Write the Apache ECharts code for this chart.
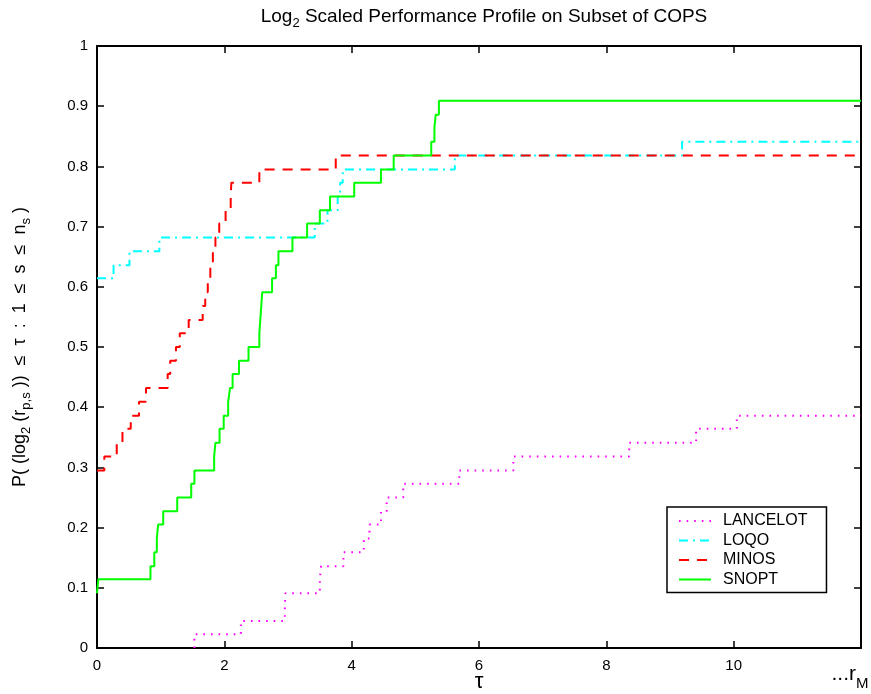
<!DOCTYPE html>
<html>
<head>
<meta charset="utf-8">
<script src="https://cdn.jsdelivr.net/npm/echarts@6/dist/echarts.min.js"></script>
<style>
html,body{margin:0;padding:0;background:#fff;}
#chart{width:871px;height:694px;}
</style>
</head>
<body>
<div id="chart"></div>
<script>
// ---- Data ----
const seriesNames = ['LANCELOT', 'LOQO', 'MINOS', 'SNOPT'];
const xTickLabels = ['0', '2', '4', '6', '8', '10', '...r_M'];

const lancelotTau = [1.53, 1.53, 2.26, 2.95, 2.96, 3.50, 3.52, 3.87, 4.19, 4.28, 4.46, 4.55, 4.81, 5.69, 6.54, 8.36, 9.41, 10.05, 12];
const lancelotP   = [0, 0.023, 0.045, 0.068, 0.091, 0.114, 0.136, 0.159, 0.182, 0.205, 0.227, 0.250, 0.273, 0.295, 0.318, 0.341, 0.364, 0.386, 0.386];

const loqoTau = [0, 0.26, 0.51, 0.98, 3.42, 3.62, 3.78, 3.82, 3.86, 5.62, 9.19, 12];
const loqoP   = [0.614, 0.636, 0.659, 0.682, 0.705, 0.727, 0.750, 0.773, 0.795, 0.818, 0.841, 0.841];

const minosTau = [0, 0.115, 0.31, 0.40, 0.53, 0.66, 0.77, 1.11, 1.15, 1.24, 1.30, 1.44, 1.66, 1.70, 1.74, 1.78, 1.82, 1.86, 1.92, 2.02, 2.10, 2.11, 2.55, 3.75, 12];
const minosP   = [0.295, 0.318, 0.341, 0.364, 0.386, 0.409, 0.432, 0.455, 0.477, 0.500, 0.523, 0.545, 0.568, 0.591, 0.614, 0.636, 0.659, 0.682, 0.705, 0.727, 0.750, 0.773, 0.795, 0.818, 0.818];

const snoptTau = [0, 0.02, 0.84, 0.90, 0.94, 0.96, 1.04, 1.26, 1.48, 1.53, 1.84, 1.86, 1.925, 1.99, 2.06, 2.09, 2.13, 2.23, 2.38, 2.55, 2.565, 2.58, 2.595, 2.75, 2.81, 2.85, 3.07, 3.30, 3.50, 3.66, 4.04, 4.46, 4.66, 5.25, 5.30, 5.32, 5.37, 12];
const snoptP   = [0.091, 0.114, 0.136, 0.159, 0.182, 0.205, 0.227, 0.250, 0.273, 0.295, 0.318, 0.341, 0.364, 0.386, 0.409, 0.432, 0.455, 0.477, 0.500, 0.523, 0.545, 0.568, 0.591, 0.614, 0.636, 0.659, 0.682, 0.705, 0.727, 0.750, 0.773, 0.795, 0.818, 0.841, 0.864, 0.886, 0.909, 0.909];

const FONT = '"Liberation Sans", Arial, Helvetica, sans-serif';
function pairs(xs, ys) { return xs.map((x, i) => [x, ys[i]]); }

const chart = echarts.init(document.getElementById('chart'), null, {renderer: 'canvas'});

const axisCommon = {
  min: 0,
  axisLine: {show: true, onZero: false, lineStyle: {color: '#000', width: 2}},
  axisTick: {show: true, inside: true, length: 7, lineStyle: {color: '#000', width: 1.5}},
  splitLine: {show: false}
};

const option = {
  animation: false,
  backgroundColor: '#fff',
  textStyle: {fontFamily: FONT},
  title: {
    text: '{a|Log}{s|2}{a| Scaled Performance Profile on Subset of COPS}',
    left: 479,
    top: -1,
    textAlign: 'center',
    textStyle: {
      fontFamily: FONT, fontWeight: 'normal', color: '#000',
      rich: {
        a: {fontSize: 19, fontFamily: FONT, color: '#000', verticalAlign: 'middle', lineHeight: 26},
        s: {fontSize: 13, fontFamily: FONT, color: '#000', verticalAlign: 'bottom', lineHeight: 26}
      }
    }
  },
  grid: {left: 97, right: 10, top: 46, bottom: 46, containLabel: false, outerBoundsMode: 'none'},
  legend: {
    orient: 'vertical',
    left: 667,
    top: 507,
    data: seriesNames,
    itemWidth: 32,
    itemHeight: 14,
    itemGap: 3.5,
    padding: [6, 19, 5, 11],
    borderColor: '#000',
    borderWidth: 1.5,
    backgroundColor: '#fff',
    itemStyle: {opacity: 0, borderWidth: 0},
    textStyle: {fontFamily: FONT, fontSize: 16, color: '#000', padding: [0, 0, 0, 7]}
  },
  xAxis: [
    Object.assign({}, axisCommon, {
      type: 'value', position: 'bottom', max: 12, interval: 2,
      name: 'τ', nameLocation: 'middle', nameGap: 23, nameMoveOverlap: false,
      nameTextStyle: {fontFamily: FONT, fontSize: 22, color: '#000'},
      axisLabel: {
        margin: 9, color: '#000', fontFamily: FONT, fontSize: 15,
        formatter: function (v) {
          const i = Math.round(v / 2);
          const t = xTickLabels[i];
          if (t.indexOf('_') >= 0) {
            const parts = t.split('_');
            return '{e|' + parts[0] + '}{m|' + parts[1] + '}{sp| }';
          }
          return '{n|' + t + '}';
        },
        rich: {
          n: {fontSize: 15, fontFamily: FONT, color: '#000', verticalAlign: 'middle', lineHeight: 18},
          e: {fontSize: 21, fontFamily: FONT, color: '#000', verticalAlign: 'middle', lineHeight: 34},
          m: {fontSize: 15, fontFamily: FONT, color: '#000', verticalAlign: 'bottom', lineHeight: 34},
          sp: {fontSize: 15, width: 22, lineHeight: 34}
        }
      }
    }),
    Object.assign({}, axisCommon, {
      type: 'value', position: 'top', max: 12, interval: 2,
      axisLabel: {show: false}
    })
  ],
  yAxis: [
    Object.assign({}, axisCommon, {
      type: 'value', position: 'left', max: 1, interval: 0.1,
      name: '{a|P( (log}{s|2}{a| (r}{s|p,s}{a| ))  ≤  τ  :  1  ≤  s  ≤  n}{s|s}{a| )}',
      nameLocation: 'middle', nameRotate: 90, nameGap: 64, nameMoveOverlap: false,
      nameTextStyle: {
        fontFamily: FONT, color: '#000',
        rich: {
          a: {fontSize: 18, fontFamily: FONT, color: '#000', verticalAlign: 'middle', lineHeight: 26},
          s: {fontSize: 13, fontFamily: FONT, color: '#000', verticalAlign: 'bottom', lineHeight: 26}
        }
      },
      axisLabel: {
        margin: 9, color: '#000', fontFamily: FONT, fontSize: 15,
        formatter: function (v) { return (v === 0 || v === 1) ? String(v) : v.toFixed(1); }
      }
    }),
    Object.assign({}, axisCommon, {
      type: 'value', position: 'right', max: 1, interval: 0.1,
      axisLabel: {show: false}
    })
  ],
  series: [
    {
      name: 'LANCELOT', type: 'line', step: 'end', showSymbol: false, symbol: 'none',
      data: pairs(lancelotTau, lancelotP),
      lineStyle: {color: '#ff00ff', width: 2, type: [1.6, 6], cap: 'butt'},
      itemStyle: {color: '#ff00ff'}
    },
    {
      name: 'LOQO', type: 'line', step: 'end', showSymbol: false, symbol: 'none',
      data: pairs(loqoTau, loqoP),
      lineStyle: {color: '#00ffff', width: 2, type: [9, 5, 2, 5]},
      itemStyle: {color: '#00ffff'}
    },
    {
      name: 'MINOS', type: 'line', step: 'end', showSymbol: false, symbol: 'none',
      data: pairs(minosTau, minosP),
      lineStyle: {color: '#ff0000', width: 2, type: [10, 8]},
      itemStyle: {color: '#ff0000'}
    },
    {
      name: 'SNOPT', type: 'line', step: 'end', showSymbol: false, symbol: 'none',
      data: pairs(snoptTau, snoptP),
      lineStyle: {color: '#00ff00', width: 2, type: 'solid'},
      itemStyle: {color: '#00ff00'}
    }
  ]
};
chart.setOption(option);
</script>
</body>
</html>
